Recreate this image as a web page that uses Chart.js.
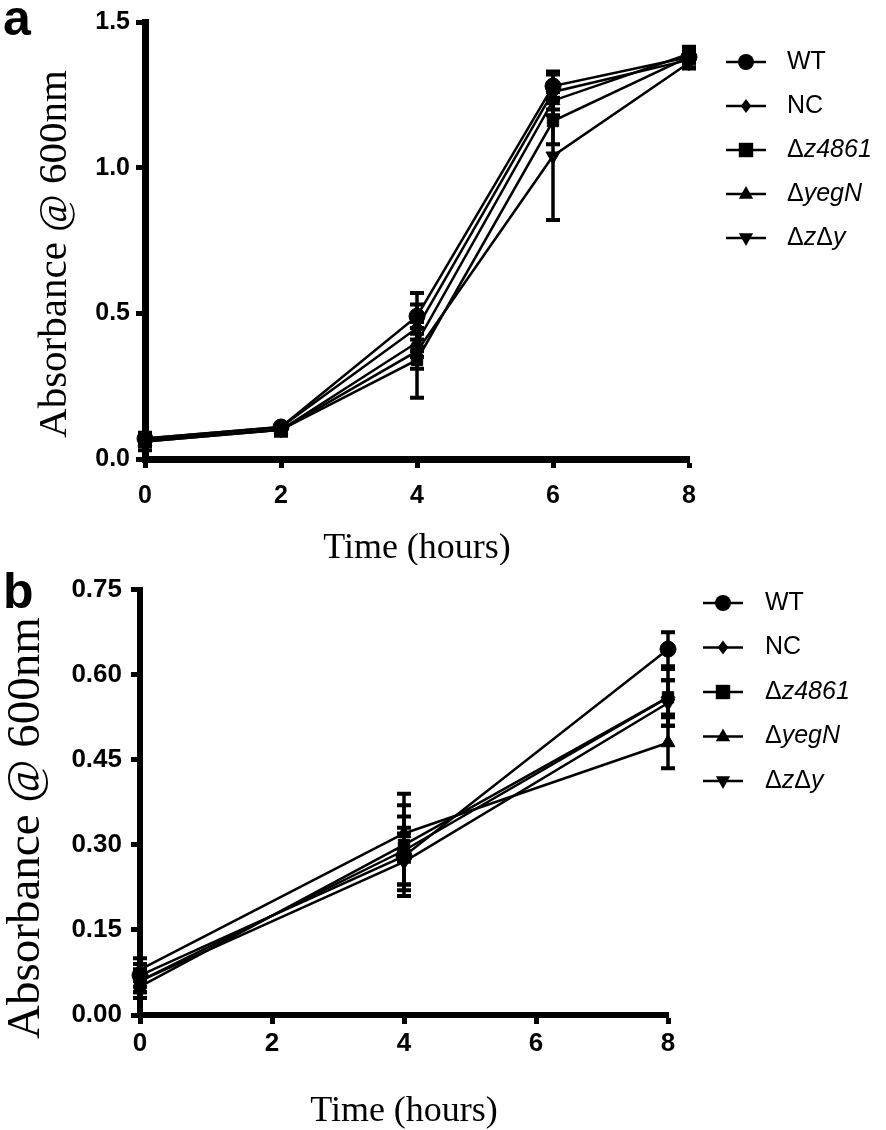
<!DOCTYPE html>
<html>
<head>
<meta charset="utf-8">
<script src="https://cdn.jsdelivr.net/npm/chart.js@4.4.1/dist/chart.umd.min.js"></script>
<style>
  html, body { margin:0; padding:0; background:#fff; }
  body { width:886px; height:1130px; position:relative; overflow:hidden; }
  canvas { position:absolute; left:0; }
  .plabel { position:absolute; left:3px; font: bold 50px 'Liberation Sans', Arial, sans-serif; line-height:1; color:#000; z-index:2; }
</style>
</head>
<body>
<div class="plabel" style="top:-7px">a</div>
<div class="plabel" style="top:566px">b</div>
<canvas id="ca" width="886" height="565" style="top:0"></canvas>
<canvas id="cb" width="886" height="565" style="top:565px"></canvas>
<script>
// ---------- DATA ----------
const seriesNames = ['WT', 'NC', 'Δz4861', 'ΔyegN', 'ΔzΔy'];
const xTitle = 'Time (hours)';
const yTitle = 'Absorbance @ 600nm';

// Panel a
const hoursA = [0, 2, 4, 6, 8];
const wtA      = [0.07, 0.11, 0.49, 1.28, 1.38];
const ncA      = [0.07, 0.11, 0.45, 1.26, 1.37];
const z4861A   = [0.06, 0.10, 0.34, 1.16, 1.38];
const yegNA    = [0.06, 0.10, 0.40, 1.23, 1.39];
const zyA      = [0.065, 0.10, 0.37, 1.04, 1.36];
const wtErrA    = [0.01, 0.01, 0.08, 0.05, 0.02];
const ncErrA    = [0.01, 0.01, 0.08, 0.06, 0.01];
const z4861ErrA = [0.03, 0.02, 0.13, 0.08, 0.035];
const yegNErrA  = [0.01, 0.01, 0.05, 0.05, 0.02];
const zyErrA    = [0.02, 0.01, 0.06, 0.22, 0.02];
const yTicksA = [0.0, 0.5, 1.0, 1.5];
const xTicksA = [0, 2, 4, 6, 8];

// Panel b
const hoursB = [0, 4, 8];
const wtB      = [0.07, 0.28, 0.645];
const ncB      = [0.06, 0.29, 0.56];
const z4861B   = [0.05, 0.30, 0.56];
const yegNB    = [0.08, 0.32, 0.48];
const zyB      = [0.06, 0.27, 0.55];
const wtErrB    = [0.02, 0.05, 0.03];
const ncErrB    = [0.02, 0.06, 0.05];
const z4861ErrB = [0.02, 0.09, 0.03];
const yegNErrB  = [0.02, 0.05, 0.045];
const zyErrB    = [0.02, 0.05, 0.04];
const yTicksB = [0.00, 0.15, 0.30, 0.45, 0.60, 0.75];
const xTicksB = [0, 2, 4, 6, 8];

// ---------- STYLE ----------
const markerStyles = [
  { pointStyle: 'circle',   radius: 8, rotation: 0 },
  { pointStyle: 'rectRot',  radius: 7, rotation: 0 },
  { pointStyle: 'rect',     radius: 8, rotation: 0 },
  { pointStyle: 'triangle', radius: 8, rotation: 0 },
  { pointStyle: 'triangle', radius: 8, rotation: 180 }
];

function makeDatasets(xs, seriesList, errList, orders) {
  return seriesList.map((vals, i) => ({
    label: seriesNames[i],
    data: xs.map((x, j) => ({ x: x, y: vals[j] })),
    err: errList[i],
    order: orders[i],
    borderColor: '#000',
    backgroundColor: '#000',
    borderWidth: 2.5,
    pointStyle: markerStyles[i].pointStyle,
    pointRadius: markerStyles[i].radius,
    pointRotation: markerStyles[i].rotation,
    pointBackgroundColor: '#000',
    pointBorderColor: '#000',
    pointBorderWidth: 1,
    tension: 0,
    clip: false
  }));
}

const errorBarPlugin = {
  id: 'errorBars',
  beforeDatasetsDraw(chart) {
    const ctx = chart.ctx;
    const ys = chart.scales.y;
    ctx.save();
    ctx.strokeStyle = '#000';
    chart.data.datasets.forEach((ds, i) => {
      const meta = chart.getDatasetMeta(i);
      meta.data.forEach((pt, j) => {
        const v = ds.data[j].y, e = ds.err[j];
        const yt = ys.getPixelForValue(v + e), yb = ys.getPixelForValue(v - e);
        const x = pt.x;
        ctx.lineWidth = 3.5;
        ctx.beginPath(); ctx.moveTo(x, yt); ctx.lineTo(x, yb); ctx.stroke();
        ctx.lineWidth = 4;
        ctx.beginPath();
        ctx.moveTo(x - 7, yt); ctx.lineTo(x + 7, yt);
        ctx.moveTo(x - 7, yb); ctx.lineTo(x + 7, yb);
        ctx.stroke();
      });
    });
    ctx.restore();
  }
};

function drawMarker(ctx, style, x, y) {
  const r = style.radius;
  ctx.beginPath();
  if (style.pointStyle === 'circle') {
    ctx.arc(x, y, r, 0, Math.PI * 2);
  } else if (style.pointStyle === 'rectRot') {
    ctx.moveTo(x, y - r); ctx.lineTo(x + r * 0.75, y); ctx.lineTo(x, y + r); ctx.lineTo(x - r * 0.75, y); ctx.closePath();
  } else if (style.pointStyle === 'rect') {
    const s = r * 0.9;
    ctx.rect(x - s, y - s, 2 * s, 2 * s);
  } else if (style.pointStyle === 'triangle') {
    const d = style.rotation === 180 ? -1 : 1;
    ctx.moveTo(x, y - d * r);
    ctx.lineTo(x + r * 0.9, y + d * r * 0.6);
    ctx.lineTo(x - r * 0.9, y + d * r * 0.6);
    ctx.closePath();
  }
  ctx.fill();
}

function makeLegendPlugin(cfg) {
  return {
    id: 'customLegend',
    afterDraw(chart) {
      const ctx = chart.ctx;
      ctx.save();
      chart.data.datasets.forEach((ds, i) => {
        const y = cfg.y0 + i * cfg.dy;
        ctx.strokeStyle = '#000'; ctx.fillStyle = '#000'; ctx.lineWidth = 2.5;
        ctx.beginPath(); ctx.moveTo(cfg.x0, y); ctx.lineTo(cfg.x0 + 40, y); ctx.stroke();
        drawMarker(ctx, markerStyles[i], cfg.x0 + 20, y);
        let tx = cfg.tx;
        ctx.textBaseline = 'middle';
        ctx.textAlign = 'left';
        const label = ds.label;
        const italic = label.indexOf('Δ') >= 0;
        for (const ch of label) {
          if (ch === 'Δ' || !italic) {
            ctx.font = "normal 25px 'Liberation Sans', Arial, sans-serif";
          } else {
            ctx.font = "italic 25px 'Liberation Sans', Arial, sans-serif";
          }
          ctx.fillText(ch, tx, y);
          tx += ctx.measureText(ch).width;
        }
      });
      ctx.restore();
    }
  };
}

function makeYTitlePlugin(cfg) {
  return {
    id: 'yTitle',
    afterDraw(chart) {
      const ctx = chart.ctx;
      ctx.save();
      ctx.translate(cfg.cx, cfg.cy);
      ctx.rotate(-Math.PI / 2);
      ctx.fillStyle = '#000';
      ctx.font = cfg.size + "px 'Liberation Serif', 'Times New Roman', serif";
      ctx.textAlign = 'center';
      ctx.textBaseline = 'middle';
      ctx.fillText(yTitle, 0, 0);
      ctx.restore();
    }
  };
}

function makeChart(canvasId, opts) {
  const W = 886, H = 565;
  const padLeft = 0, padBottom = 0;
  return new Chart(document.getElementById(canvasId), {
    type: 'line',
    data: { datasets: makeDatasets(opts.xs, opts.series, opts.errs, opts.orders) },
    plugins: [errorBarPlugin, makeLegendPlugin(opts.legend), makeYTitlePlugin(opts.yTitle)],
    options: {
      responsive: false,
      animation: false,
      devicePixelRatio: 1,
      layout: { padding: { left: padLeft, right: W - opts.area.right, top: opts.area.top, bottom: padBottom } },
      plugins: { legend: { display: false }, tooltip: { enabled: false } },
      scales: {
        x: {
          type: 'linear', min: 0, max: 8,
          afterBuildTicks: (s) => { s.ticks = opts.xTicks.map(v => ({ value: v })); },
          afterFit: (s) => { s.height = H - opts.area.bottom - padBottom; },
          ticks: { color: '#000', font: { family: "'Liberation Sans', Arial, sans-serif", size: opts.tickSize, weight: 'bold' }, padding: opts.xTickPad, maxRotation: 0,
                   callback: (v) => String(v) },
          grid: { display: true, drawOnChartArea: false, drawTicks: true, tickLength: 9, tickWidth: 5, tickColor: '#000', color: '#000' },
          border: { display: true, color: '#000', width: opts.axisWidth },
          title: { display: true, text: xTitle, color: '#000', font: { family: "'Liberation Serif', 'Times New Roman', serif", size: opts.xTitleSize, lineHeight: 1 }, padding: { top: 0, bottom: opts.xTitlePad } }
        },
        y: {
          type: 'linear', min: opts.yTicks[0], max: opts.yTicks[opts.yTicks.length - 1],
          afterBuildTicks: (s) => { s.ticks = opts.yTicks.map(v => ({ value: v })); },
          afterFit: (s) => { s.width = opts.area.left - padLeft; },
          ticks: { color: '#000', font: { family: "'Liberation Sans', Arial, sans-serif", size: opts.tickSize, weight: 'bold' }, padding: opts.yTickPad,
                   callback: (v) => Number(v).toFixed(opts.yDecimals) },
          grid: { display: true, drawOnChartArea: false, drawTicks: true, tickLength: 9, tickWidth: 5, tickColor: '#000', color: '#000' },
          border: { display: true, color: '#000', width: opts.axisWidth },
          title: { display: false }
        }
      }
    }
  });
}

makeChart('ca', {
  xs: hoursA,
  series: [wtA, ncA, z4861A, yegNA, zyA],
  errs: [wtErrA, ncErrA, z4861ErrA, yegNErrA, zyErrA],
  orders: [1, 2, 0, 3, 4],
  yTicks: yTicksA, xTicks: xTicksA, yDecimals: 1,
  area: { left: 145, right: 689, top: 22, bottom: 459 },
  tickSize: 25, axisWidth: 7, xTickPad: 13, yTickPad: 6,
  xTitleSize: 36, xTitlePad: -2,
  yTitle: { cx: 55, cy: 254, size: 41 },
  legend: { x0: 726, tx: 787, y0: 62, dy: 44 }
});

makeChart('cb', {
  xs: hoursB,
  series: [wtB, ncB, z4861B, yegNB, zyB],
  errs: [wtErrB, ncErrB, z4861ErrB, yegNErrB, zyErrB],
  orders: [0, 1, 2, 3, 4],
  yTicks: yTicksB, xTicks: xTicksB, yDecimals: 2,
  area: { left: 140, right: 668, top: 22, bottom: 450 },
  tickSize: 26, axisWidth: 6, xTickPad: 4, yTickPad: 9,
  xTitleSize: 36, xTitlePad: 0,
  yTitle: { cx: 27, cy: 263, size: 47 },
  legend: { x0: 703, tx: 765, y0: 38, dy: 44.5 }
});
</script>
</body>
</html>
